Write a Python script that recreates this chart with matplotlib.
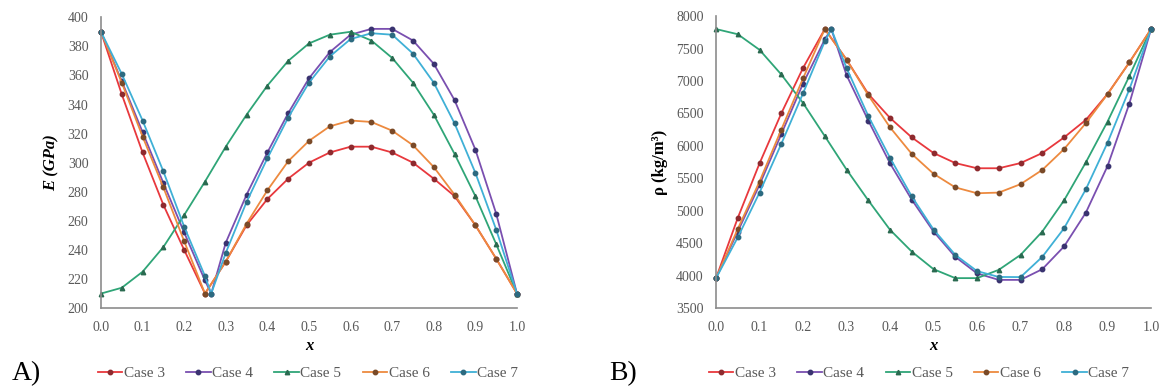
import matplotlib
matplotlib.use("Agg")
import matplotlib.pyplot as plt

plt.rcParams["font.family"] = ["Liberation Serif", "DejaVu Serif"]

# ---------------------------------------------------------------- data
x_std = [0.0, 0.05, 0.1, 0.15, 0.2, 0.25, 0.3, 0.35, 0.4, 0.45, 0.5,
         0.55, 0.6, 0.65, 0.7, 0.75, 0.8, 0.85, 0.9, 0.95, 1.0]
x_shift = [0.0, 0.05, 0.1, 0.15, 0.2, 0.25, 0.265, 0.3, 0.35, 0.4, 0.45,
           0.5, 0.55, 0.6, 0.65, 0.7, 0.75, 0.8, 0.85, 0.9, 0.95, 1.0]

cases = ["Case 3", "Case 4", "Case 5", "Case 6", "Case 7"]

E_case3 = [390, 347, 307, 271, 240, 210, 232, 257, 275, 289, 300,
           307, 311, 311, 307, 300, 289, 277, 257, 234, 210]
E_case4 = [390, 356, 321, 286, 252, 219, 210, 245, 278, 307, 334,
           358, 376, 388, 392, 392, 384, 368, 343, 309, 265, 210]
E_case5 = [210, 214, 225, 242, 264, 287, 311, 333, 353, 370, 382,
           388, 390, 384, 372, 355, 333, 306, 277, 244, 210]
E_case6 = [390, 355, 318, 283, 246, 210, 232, 258, 281, 301, 315,
           325, 329, 328, 322, 312, 297, 278, 257, 234, 210]
E_case7 = [390, 361, 329, 294, 256, 222, 210, 238, 273, 303, 331,
           355, 373, 385, 389, 388, 375, 355, 327, 293, 254, 210]

rho_case3 = [3960, 4890, 5730, 6500, 7200, 7800, 7330, 6800, 6430, 6130, 5890,
             5735, 5655, 5655, 5735, 5890, 6130, 6400, 6800, 7285, 7800]
rho_case4 = [3960, 4680, 5400, 6180, 6960, 7640, 7800, 7090, 6390, 5730, 5170,
             4680, 4290, 4035, 3935, 3935, 4100, 4450, 4970, 5690, 6650, 7800]
rho_case5 = [7800, 7720, 7480, 7100, 6660, 6150, 5635, 5160, 4706, 4370, 4100,
             3962, 3962, 4090, 4320, 4680, 5160, 5745, 6375, 7075, 7800]
rho_case6 = [3960, 4720, 5450, 6250, 7040, 7800, 7330, 6780, 6285, 5875, 5570,
             5360, 5270, 5280, 5410, 5630, 5950, 6350, 6797, 7285, 7800]
rho_case7 = [3960, 4590, 5280, 6030, 6810, 7610, 7800, 7200, 6460, 5815, 5220,
             4710, 4320, 4070, 3980, 3978, 4290, 4730, 5330, 6050, 6870, 7800]

x_of_case = [x_std, x_shift, x_std, x_std, x_shift]
E_of_case = [E_case3, E_case4, E_case5, E_case6, E_case7]
rho_of_case = [rho_case3, rho_case4, rho_case5, rho_case6, rho_case7]

# ---------------------------------------------------------------- styles
line_col = ["#e8383d", "#7a4fb0", "#2fa577", "#ed8a3f", "#3fb0d6"]
mark_col = ["#8e2a2e", "#3a3370", "#2a6a50", "#7a4a28", "#2c6a80"]
markers = ["o", "o", "^", "o", "o"]
axis_gray = "#8c8c8c"
text_gray = "#595959"


def style_axes(ax, ylim, yticks):
    for side in ("top", "right"):
        ax.spines[side].set_visible(False)
    for side in ("left", "bottom"):
        ax.spines[side].set_color(axis_gray)
        ax.spines[side].set_linewidth(1.2)
    ax.set_xlim(0, 1.0)
    ax.set_ylim(*ylim)
    ax.set_xticks([i / 10 for i in range(11)])
    ax.set_xticklabels([f"{i / 10:.1f}" for i in range(11)])
    ax.set_yticks(yticks)
    ax.tick_params(length=0, labelsize=10, labelcolor=text_gray)
    ax.tick_params(axis="y", pad=9)
    ax.tick_params(axis="x", pad=9)
    ax.set_xlabel("x", fontsize=12, fontweight="bold", style="italic",
                  labelpad=3)


def draw(ax, ydata):
    handles = []
    for k in range(len(cases)):
        h, = ax.plot(x_of_case[k], ydata[k], color=line_col[k], lw=1.3,
                     marker=markers[k], ms=3.2, mfc=mark_col[k],
                     mec=mark_col[k], label=cases[k], clip_on=False)
        handles.append(h)
    return handles


fig = plt.figure(figsize=(11.62, 3.92), dpi=100)
axA = fig.add_axes([0.0869, 0.214, 0.358, 0.742])
axB = fig.add_axes([0.6162, 0.214, 0.3744, 0.745])

hA = draw(axA, E_of_case)
style_axes(axA, (200, 400), list(range(200, 401, 20)))
axA.set_ylabel("E (GPa)", fontsize=12, fontweight="bold", style="italic",
               labelpad=6)

hB = draw(axB, rho_of_case)
style_axes(axB, (3500, 8000), list(range(3500, 8001, 500)))
axB.set_ylabel("ρ (kg/m³)", fontsize=12, fontweight="bold", labelpad=6)

legA = fig.legend(hA, cases, loc="center", bbox_to_anchor=(0.265, 0.048),
                  ncol=5, frameon=False, fontsize=11, handlelength=1.6,
                  handletextpad=0.1, columnspacing=1.4, labelcolor=text_gray)
legB = fig.legend(hB, cases, loc="center", bbox_to_anchor=(0.791, 0.048),
                  ncol=5, frameon=False, fontsize=11, handlelength=1.6,
                  handletextpad=0.1, columnspacing=1.4, labelcolor=text_gray)

fig.text(0.010, 0.048, "A)", fontsize=20, va="center", ha="left")
fig.text(0.524, 0.048, "B)", fontsize=20, va="center", ha="left")

fig.savefig("out.png", dpi=100)
